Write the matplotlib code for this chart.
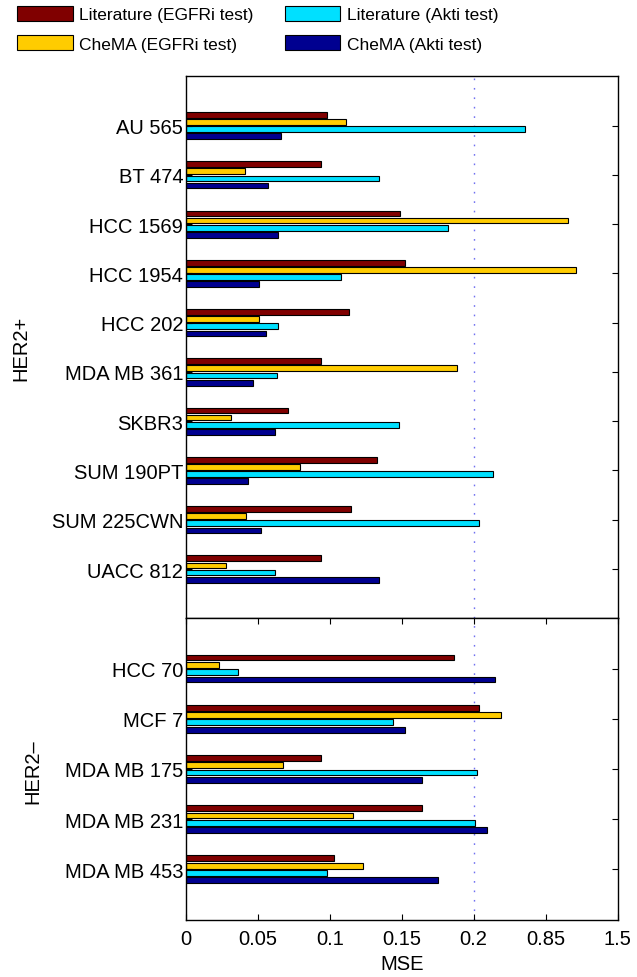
import numpy as np
import matplotlib
matplotlib.use("Agg")
import matplotlib.pyplot as plt

plt.rcParams['font.family'] = ['Liberation Sans', 'DejaVu Sans']

# ---------------- data ----------------
her2_pos_lines = ["AU 565", "BT 474", "HCC 1569", "HCC 1954", "HCC 202",
                  "MDA MB 361", "SKBR3", "SUM 190PT", "SUM 225CWN", "UACC 812"]
lit_egfr_pos = [0.098, 0.094, 0.149, 0.152, 0.113, 0.094, 0.071, 0.133, 0.115, 0.094]
chema_egfr_pos = [0.111, 0.041, 1.054, 1.126, 0.051, 0.1885, 0.031, 0.079, 0.042, 0.028]
lit_akti_pos = [0.664, 0.134, 0.182, 0.1075, 0.064, 0.063, 0.148, 0.377, 0.245, 0.062]
chema_akti_pos = [0.066, 0.057, 0.064, 0.051, 0.0555, 0.0465, 0.062, 0.043, 0.052, 0.134]

her2_neg_lines = ["HCC 70", "MCF 7", "MDA MB 175", "MDA MB 231", "MDA MB 453"]
lit_egfr_neg = [0.186, 0.245, 0.094, 0.164, 0.103]
chema_egfr_neg = [0.023, 0.45, 0.0675, 0.116, 0.123]
lit_akti_neg = [0.0365, 0.144, 0.233, 0.2145, 0.098]
chema_akti_neg = [0.393, 0.152, 0.164, 0.318, 0.1755]

series_labels = ["Literature (EGFRi test)", "CheMA (EGFRi test)",
                 "Literature (Akti test)", "CheMA (Akti test)"]
colors = ["#800000", "#FFCC00", "#00E0FF", "#000090"]

x_ticks = [0, 0.05, 0.1, 0.15, 0.2, 0.85, 1.5]
x_ticklabels = ["0", "0.05", "0.1", "0.15", "0.2", "0.85", "1.5"]
threshold = 0.2

# ---------------- broken-axis scale ----------------
def fwd(x):
    x = np.asarray(x, dtype=float)
    return np.where(x <= 0.2, x, 0.2 + (x - 0.2) * 0.05 / 0.65)

def inv(y):
    y = np.asarray(y, dtype=float)
    return np.where(y <= 0.2, y, 0.2 + (y - 0.2) * 0.65 / 0.05)

W, H = 637, 978
fig = plt.figure(figsize=(W / 100, H / 100), dpi=100)

left = 186 / W
width = (617.5 - 186) / W
ax1 = fig.add_axes([left, 1 - 619.3 / H, width, (619.3 - 77.3) / H])
ax2 = fig.add_axes([left, 1 - 920.5 / H, width, (920.5 - 619.3) / H])

slot = 0.8 * 4 / 5.5 / 4
bar_h = slot * 0.8
offsets = (np.arange(4) - 1.5) * slot

def draw(ax, names, series):
    y = np.arange(1, len(names) + 1)
    handles = []
    for k, vals in enumerate(series):
        h = ax.barh(y + offsets[k], vals, height=bar_h, color=colors[k],
                    edgecolor="black", linewidth=0.8, label=series_labels[k])
        handles.append(h)
    ax.set_xscale("function", functions=(fwd, inv))
    ax.set_xlim(0, 1.5)
    ax.set_ylim(len(names) + 1, 0)
    ax.set_yticks(y)
    ax.set_yticklabels(names, fontsize=14.5)
    ax.tick_params(axis="y", direction="in", left=True, right=True,
                   length=4.5, width=0.8, pad=2)
    ax.axvline(threshold, color="#7070f0", linestyle=(0, (1.2, 5.6)),
               linewidth=1.0, zorder=0)
    for s in ax.spines.values():
        s.set_linewidth(1.0)
    return handles

handles = draw(ax1, her2_pos_lines,
               [lit_egfr_pos, chema_egfr_pos, lit_akti_pos, chema_akti_pos])
draw(ax2, her2_neg_lines,
     [lit_egfr_neg, chema_egfr_neg, lit_akti_neg, chema_akti_neg])

ax1.tick_params(axis="x", bottom=False, top=False, labelbottom=False)
ax1.set_xticks(x_ticks)
ax1.set_xticklabels([])
ax1.minorticks_off()

ax2.set_xticks(x_ticks)
ax2.set_xticklabels(x_ticklabels, fontsize=14.5)
ax2.minorticks_off()
ax2.tick_params(axis="x", direction="in", bottom=True, top=True,
                length=4, width=0.8, pad=7)
ax2.set_xlabel("MSE", fontsize=14.5, labelpad=4)

fig.text(21 / W, 1 - 348 / H, "HER2+", rotation=90, ha="center", va="center",
         fontsize=14.5)
fig.text(33 / W, 1 - 772 / H, "HER2\u2013", rotation=90, ha="center", va="center",
         fontsize=14.5)

leg = fig.legend(handles, series_labels,
                 loc="upper left", bbox_to_anchor=(17 / W, 1 - 7 / H),
                 ncol=2, frameon=False, fontsize=12.5,
                 handlelength=3.2, handleheight=0.95, handletextpad=0.38,
                 columnspacing=1.8, labelspacing=0.75,
                 borderpad=0, borderaxespad=0)

fig.savefig("out.png", dpi=100)
